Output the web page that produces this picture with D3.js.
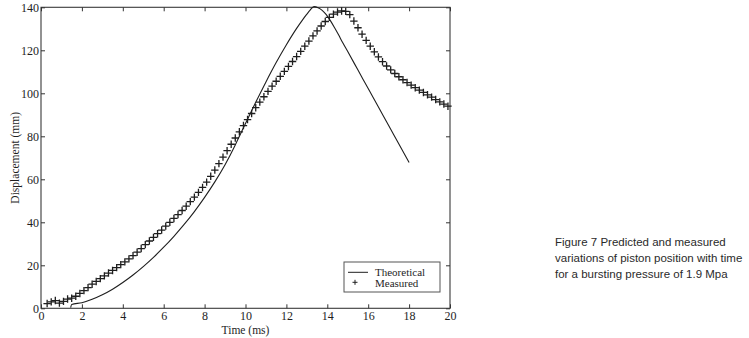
<!DOCTYPE html>
<html>
<head>
<meta charset="utf-8">
<script src="https://cdn.jsdelivr.net/npm/d3@7/dist/d3.min.js"></script>
<style>
  html, body { margin: 0; padding: 0; background: #fff; }
  svg { display: block; }
</style>
</head>
<body>
<svg id="chart" width="749" height="338"></svg>
<script>
// ---- data ----
const xTicks = [0, 2, 4, 6, 8, 10, 12, 14, 16, 18, 20];
const yTicks = [0, 20, 40, 60, 80, 100, 120, 140];

const theoTime = [1.45, 1.5, 2.0, 2.5, 3.0, 3.5, 4.0, 4.5, 5.0, 5.5, 6.0, 6.5, 7.0, 7.5, 8.0, 8.5, 9.0, 9.5, 9.75, 10.0, 10.5, 11.0, 11.5, 12.0, 12.5, 12.8, 13.0, 13.15, 13.35, 13.55, 13.75, 13.95, 14.15, 14.35, 14.55, 14.75, 15.0, 15.5, 16.0, 16.5, 17.0, 17.5, 18.0];
const theoDisp = [0.3, 1.8, 2.6, 4.2, 6.3, 8.9, 12.0, 15.5, 19.4, 23.7, 28.4, 33.5, 39.0, 45.0, 51.6, 58.8, 66.8, 76.0, 81.0, 86.0, 95.8, 105.3, 114.3, 122.6, 130.2, 134.3, 136.8, 138.6, 140.3, 139.8, 138.6, 136.6, 133.8, 130.6, 127.2, 123.6, 119.4, 110.8, 102.2, 93.6, 85.0, 76.4, 67.8];

const measTime = [0.3, 0.5, 0.7, 0.9, 1.1, 1.3, 1.5, 1.7, 1.9, 2.1, 2.3, 2.5, 2.7, 2.9, 3.1, 3.3, 3.5, 3.7, 3.9, 4.1, 4.3, 4.5, 4.7, 4.9, 5.1, 5.3, 5.5, 5.7, 5.9, 6.1, 6.3, 6.5, 6.7, 6.9, 7.1, 7.3, 7.5, 7.7, 7.9, 8.1, 8.3, 8.5, 8.7, 8.9, 9.1, 9.3, 9.5, 9.7, 9.9, 10.1, 10.3, 10.5, 10.7, 10.9, 11.1, 11.3, 11.5, 11.7, 11.9, 12.1, 12.3, 12.5, 12.7, 12.9, 13.1, 13.3, 13.5, 13.7, 13.9, 14.1, 14.3, 14.5, 14.7, 14.9, 15.1, 15.3, 15.5, 15.7, 15.9, 16.1, 16.3, 16.5, 16.7, 16.9, 17.1, 17.3, 17.5, 17.7, 17.9, 18.1, 18.3, 18.5, 18.7, 18.9, 19.1, 19.3, 19.5, 19.7, 19.9];
const measDisp = [2.2, 3.0, 3.6, 2.4, 3.2, 4.3, 4.7, 5.6, 6.9, 8.2, 9.6, 11.2, 12.5, 13.8, 15.1, 16.4, 17.6, 18.9, 20.3, 21.6, 23.0, 24.5, 26.1, 27.8, 29.6, 31.3, 33.0, 34.7, 36.4, 38.2, 40.0, 41.8, 43.6, 45.5, 47.5, 49.6, 51.7, 53.9, 56.2, 58.7, 61.4, 64.3, 67.3, 70.3, 73.3, 76.3, 79.2, 82.1, 85.0, 87.8, 90.6, 93.3, 95.9, 98.4, 100.9, 103.3, 105.6, 107.9, 110.2, 112.5, 114.8, 117.1, 119.5, 121.9, 124.3, 126.7, 129.0, 131.3, 133.4, 135.3, 136.8, 137.8, 138.3, 138.1, 136.6, 133.6, 130.5, 127.5, 124.6, 121.9, 119.3, 116.9, 114.7, 112.7, 110.9, 109.2, 107.7, 106.3, 105.0, 103.8, 102.6, 101.5, 100.4, 99.3, 98.2, 97.1, 96.0, 95.0, 94.0];

const seriesNames = ["Theoretical", "Measured"];
const captionLines = ["Figure 7 Predicted and measured", "variations of piston position with time", "for a bursting pressure of 1.9 Mpa"];
const xLabel = "Time (ms)";
const yLabel = "Displacement (mm)";

// ---- layout ----
const svg = d3.select("#chart");
const L = 41, R = 450, T = 7.3, B = 308.3;
const x = d3.scaleLinear().domain([0, 20]).range([L, R]);
const y = d3.scaleLinear().domain([0, 140]).range([B, T]);
const ink = "#1e1e1e";
const serif = "'Liberation Serif','Times New Roman',Times,serif";

const g = svg.append("g");

// frame
g.append("rect").attr("x", L).attr("y", T).attr("width", R - L).attr("height", B - T)
  .attr("fill", "none").attr("stroke", "#3a3a3a").attr("stroke-width", 1.1);

function styleAxis(sel, labels) {
  sel.select(".domain").remove();
  sel.selectAll(".tick line").attr("stroke", "#333").attr("stroke-width", 1);
  sel.selectAll(".tick text").attr("fill", ink).style("font-family", serif).style("font-size", "12px");
  if (!labels) sel.selectAll(".tick text").remove();
}

g.append("g").attr("transform", `translate(0,${B})`)
  .call(d3.axisBottom(x).tickValues(xTicks).tickSize(-4).tickPadding(3.5).tickSizeOuter(0).tickFormat(d3.format("d")))
  .call(s => styleAxis(s, true));
g.append("g").attr("transform", `translate(0,${T})`)
  .call(d3.axisTop(x).tickValues(xTicks).tickSize(-4).tickSizeOuter(0))
  .call(s => styleAxis(s, false));
g.append("g").attr("transform", `translate(${L},0)`)
  .call(d3.axisLeft(y).tickValues(yTicks).tickSize(-4).tickPadding(2).tickSizeOuter(0).tickFormat(d3.format("d")))
  .call(s => styleAxis(s, true));
g.append("g").attr("transform", `translate(${R},0)`)
  .call(d3.axisRight(y).tickValues(yTicks).tickSize(-4).tickSizeOuter(0))
  .call(s => styleAxis(s, false));

// axis titles
g.append("text").attr("x", (L + R) / 2).attr("y", 334).attr("text-anchor", "middle")
  .style("font-family", serif).style("font-size", "11.5px").attr("fill", ink).text(xLabel);
g.append("text").attr("transform", `translate(19,${(T + B) / 2}) rotate(-90)`).attr("text-anchor", "middle")
  .style("font-family", serif).style("font-size", "11.5px").attr("fill", ink).text(yLabel);

// theoretical line
const theo = theoTime.map((t, i) => [t, theoDisp[i]]);
g.append("path").datum(theo)
  .attr("d", d3.line().x(d => x(d[0])).y(d => y(d[1])).curve(d3.curveMonotoneX))
  .attr("fill", "none").attr("stroke", ink).attr("stroke-width", 1.1);

// measured markers
const meas = measTime.map((t, i) => [t, measDisp[i]]);
const h = 3.7;
g.append("g").selectAll("path").data(meas).join("path")
  .attr("d", d => {
    const px = x(d[0]), py = y(d[1]);
    return `M${px - h},${py}H${px + h}M${px},${py - h}V${py + h}`;
  })
  .attr("fill", "none").attr("stroke", ink).attr("stroke-width", 1.3);

// legend
const lg = g.append("g");
lg.append("rect").attr("x", 344).attr("y", 262).attr("width", 96).attr("height", 30)
  .attr("fill", "#fff").attr("stroke", "#555").attr("stroke-width", 1);
lg.append("line").attr("x1", 348).attr("x2", 368).attr("y1", 272.3).attr("y2", 272.3)
  .attr("stroke", ink).attr("stroke-width", 1);
lg.append("path").attr("d", `M${355 - 2.5},282.3H${355 + 2.5}M355,${282.3 - 2.5}V${282.3 + 2.5}`)
  .attr("stroke", ink).attr("stroke-width", 1);
lg.selectAll("text.lt").data(seriesNames).join("text").attr("class", "lt")
  .attr("x", 375).attr("y", (d, i) => 276 + i * 10.5)
  .style("font-family", serif).style("font-size", "11px").attr("fill", ink).text(d => d);

// caption
g.append("g").selectAll("text").data(captionLines).join("text")
  .attr("x", 555).attr("y", (d, i) => 246 + i * 16)
  .style("font-family", "'Liberation Sans',Arial,Helvetica,sans-serif").style("font-size", "11.5px")
  .attr("fill", "#2a2a2a").text(d => d);
</script>
</body>
</html>
